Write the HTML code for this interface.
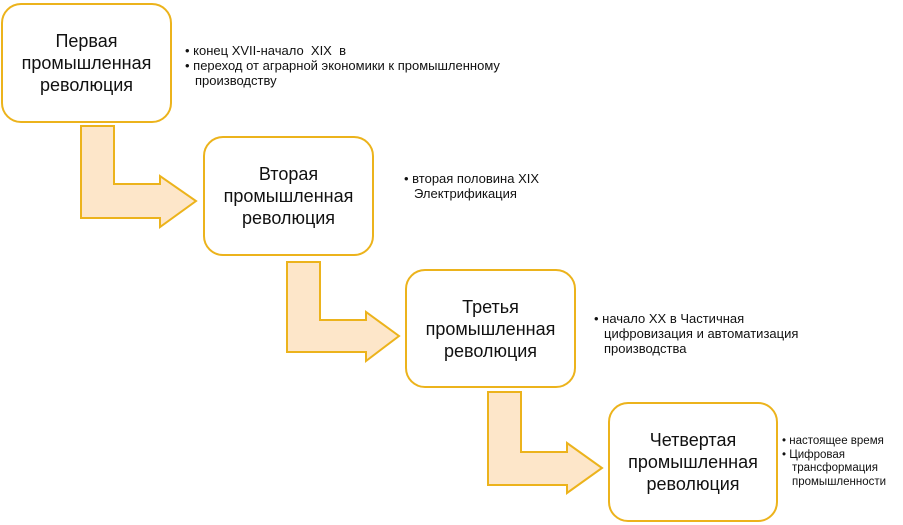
<!DOCTYPE html>
<html><head><meta charset="utf-8"><style>
body{margin:0;width:903px;height:525px;background:#fff;position:relative;overflow:hidden;font-family:"Liberation Sans",sans-serif;}
.b{position:absolute;border:2px solid #ecb31c;border-radius:20px;background:#fff;box-sizing:border-box;display:flex;align-items:center;justify-content:center;text-align:center;font-size:18px;line-height:22px;color:#111;}
.t{position:absolute;font-size:13px;line-height:15px;color:#111;}
.t div{padding-left:10px;text-indent:-10px;}
svg{position:absolute;left:0;top:0}
</style></head><body>
<svg width="903" height="525">
<g fill="#fde6c9" stroke="#ecb31c" stroke-width="2" stroke-linejoin="miter">
<path d="M81,126 H114 V184 H160 V176 L196,201 L160,227 V218 H81 Z"/>
<path d="M287,262 H320 V320 H366 V312 L399,336 L366,361 V352 H287 Z"/>
<path d="M488,392 H521 V452 H567 V443 L602,468 L567,493 V485 H488 Z"/>
</g>
</svg>
<div class="b" style="left:1px;top:3px;width:171px;height:120px">Первая<br>промышленная<br>революция</div>
<div class="b" style="left:203px;top:136px;width:171px;height:120px">Вторая<br>промышленная<br>революция</div>
<div class="b" style="left:405px;top:269px;width:171px;height:119px">Третья<br>промышленная<br>революция</div>
<div class="b" style="left:608px;top:402px;width:170px;height:120px">Четвертая<br>промышленная<br>революция</div>
<div class="t" style="left:185px;top:43px;width:340px"><div>• конец XVII-начало&nbsp; XIX&nbsp; в</div><div>• переход от аграрной экономики к промышленному производству</div></div>
<div class="t" style="left:404px;top:171px;width:150px"><div>• вторая половина XIX Электрификация</div></div>
<div class="t" style="left:594px;top:311px;width:240px"><div>• начало XX в Частичная цифровизация и автоматизация производства</div></div>
<div class="t" style="left:782px;top:435px;width:121px;font-size:11.5px;line-height:13.5px"><div>• настоящее время</div><div>• Цифровая трансформация промышленности</div></div>
</body></html>
